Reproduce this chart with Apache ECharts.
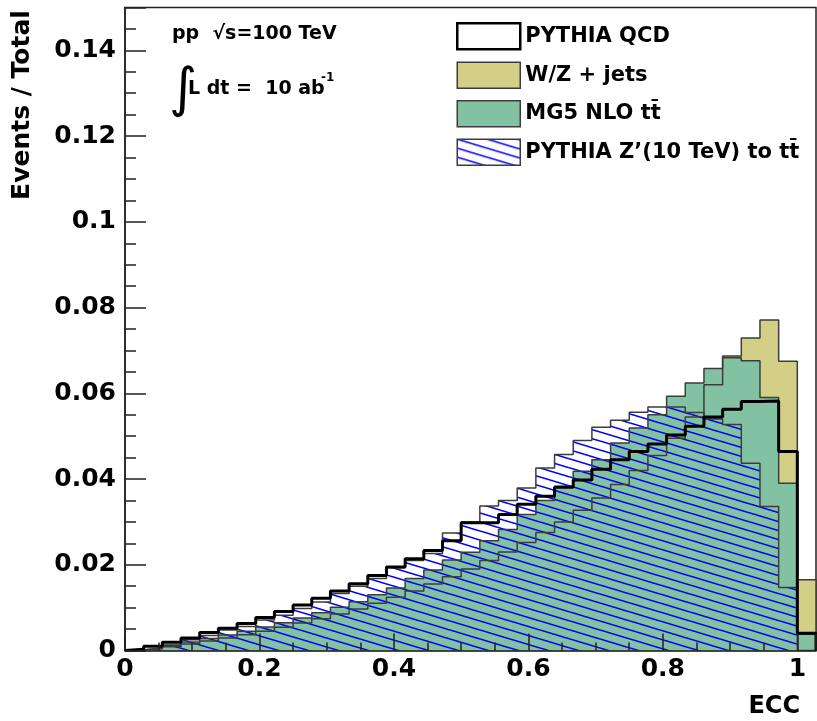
<!DOCTYPE html>
<html>
<head>
<meta charset="utf-8">
<script src="https://cdn.jsdelivr.net/npm/echarts@6/dist/echarts.min.js"></script>
<style>
html, body { margin: 0; padding: 0; background: #fff; }
#chart { width: 817px; height: 721px; }
</style>
</head>
<body>
<div id="chart"></div>
<script>
// ECC histograms: 36 bins in [0,1] plus one overflow bin (last entry)
const nBins = 36;
const xMax = 37 / 36;

const qcd = [0.0003, 0.0010, 0.0019, 0.0029, 0.0042, 0.0052, 0.0063, 0.0077, 0.0091, 0.0106,
  0.0122, 0.0139, 0.0156, 0.0175, 0.0195, 0.0214, 0.0233, 0.0256, 0.0298, 0.0298,
  0.0317, 0.0341, 0.0360, 0.0381, 0.0398, 0.0423, 0.0445, 0.0464, 0.0482, 0.0503,
  0.0523, 0.0545, 0.0563, 0.0581, 0.0582, 0.0464, 0.0040];
const wzJets = [0.0001, 0.0004, 0.0009, 0.0015, 0.0022, 0.0029, 0.0037, 0.0045, 0.0054, 0.0064,
  0.0074, 0.0085, 0.0097, 0.0110, 0.0124, 0.0139, 0.0155, 0.0172, 0.0190, 0.0210,
  0.0230, 0.0252, 0.0275, 0.0300, 0.0327, 0.0356, 0.0387, 0.0420, 0.0455, 0.0495,
  0.0545, 0.0620, 0.0687, 0.0729, 0.0771, 0.0675, 0.0165];
const mg5 = [0.0002, 0.0006, 0.0012, 0.0020, 0.0028, 0.0036, 0.0045, 0.0055, 0.0065, 0.0076,
  0.0088, 0.0101, 0.0114, 0.0130, 0.0146, 0.0168, 0.0188, 0.0211, 0.0229, 0.0256,
  0.0282, 0.0317, 0.0350, 0.0383, 0.0418, 0.0445, 0.0484, 0.0519, 0.0550, 0.0593,
  0.0624, 0.0658, 0.0683, 0.0676, 0.0590, 0.0390, 0.0038];
const zprime = [0.0001, 0.0005, 0.0013, 0.0025, 0.0035, 0.0048, 0.0056, 0.0071, 0.0082, 0.0098,
  0.0113, 0.0133, 0.0150, 0.0168, 0.0193, 0.0210, 0.0226, 0.0274, 0.0300, 0.0337,
  0.0350, 0.0379, 0.0426, 0.0457, 0.0490, 0.0521, 0.0537, 0.0556, 0.0568, 0.0568,
  0.0555, 0.0540, 0.0527, 0.0437, 0.0336, 0.0147, 0.0000];

const names = ['PYTHIA QCD', 'W/Z + jets', 'MG5 NLO tt\u0304', 'PYTHIA Z\u2019(10 TeV) to tt\u0304'];

// turn bin contents into a step outline (starts and ends at 0)
function stepPoints(vals) {
  const w = 1 / nBins;
  const pts = [[0, 0]];
  vals.forEach((v, i) => pts.push([i * w, v]));
  pts.push([vals.length * w, 0]);
  return pts;
}

// blue hatch pattern
function makeHatch() {
  const c = document.createElement('canvas');
  c.width = 30;
  c.height = 9;
  const ctx = c.getContext('2d');
  ctx.strokeStyle = '#0000ff';
  ctx.lineWidth = 1.6;
  for (let k = -1; k <= 1; k++) {
    ctx.beginPath();
    ctx.moveTo(-30, -9 + k * 9);
    ctx.lineTo(60, 18 + k * 9);
    ctx.stroke();
  }
  return c;
}
const hatch = { image: makeHatch(), repeat: 'repeat' };

const tickFont = 'DejaVu Sans';
const outline = '#3c3c3c';

const myChart = echarts.init(document.getElementById('chart'));
const option = {
  animation: false,
  backgroundColor: '#fff',
  grid: {
    left: 125, right: 1, top: 7.5, bottom: 70.5,
    show: true, borderColor: '#222', borderWidth: 1.5, backgroundColor: 'transparent'
  },
  legend: {
    orient: 'vertical',
    left: 451, top: 17,
    itemWidth: 63, itemHeight: 26, itemGap: 11,
    selectedMode: false,
    textStyle: { fontFamily: tickFont, fontWeight: 'bold', fontSize: 21, color: '#000' },
    data: [
      { name: names[0], icon: 'rect', itemStyle: { color: '#fff', borderColor: '#000', borderWidth: 2.5 } },
      { name: names[1], icon: 'rect', itemStyle: { color: '#d3cf87', borderColor: outline, borderWidth: 1.5 } },
      { name: names[2], icon: 'rect', itemStyle: { color: '#82c2a2', borderColor: outline, borderWidth: 1.5 } },
      { name: names[3], icon: 'rect', itemStyle: { color: hatch, borderColor: outline, borderWidth: 1.5 } }
    ]
  },
  xAxis: {
    type: 'value', min: 0, max: xMax, interval: 0.2, z: 5,
    axisLine: { lineStyle: { color: '#222', width: 1.5 } },
    axisTick: { inside: true, length: 17, lineStyle: { color: '#222', width: 1.5 } },
    minorTick: { show: true, splitNumber: 4, length: 8, lineStyle: { color: '#222', width: 1.5 } },
    splitLine: { show: false },
    axisLabel: {
      showMaxLabel: false, margin: 6, color: '#000',
      fontFamily: tickFont, fontWeight: 'bold', fontSize: 25
    }
  },
  yAxis: {
    type: 'value', min: 0, max: 0.15, interval: 0.02, z: 5,
    axisLine: { show: true, lineStyle: { color: '#222', width: 1.5 } },
    axisTick: { show: true, inside: true, length: 21, lineStyle: { color: '#222', width: 1.5 } },
    minorTick: { show: true, splitNumber: 4, length: 11, lineStyle: { color: '#222', width: 1.5 } },
    splitLine: { show: false },
    axisLabel: {
      showMaxLabel: false, margin: 9, color: '#000',
      fontFamily: tickFont, fontWeight: 'bold', fontSize: 25
    }
  },
  graphic: [
    { type: 'text', x: 22, y: 105, rotation: Math.PI / 2,
      style: { text: 'Events / Total', font: 'bold 25px "DejaVu Sans"', fill: '#000', align: 'center', verticalAlign: 'middle' } },
    { type: 'text', x: 800, y: 707,
      style: { text: 'ECC', font: 'bold 24px "DejaVu Sans"', fill: '#000', align: 'right', verticalAlign: 'middle' } },
    { type: 'text', x: 172, y: 34,
      style: { text: 'pp  \u221As=100 TeV', font: 'bold 19px "DejaVu Sans"', fill: '#000', align: 'left', verticalAlign: 'middle' } },
    { type: 'text', x: 169, y: 92,
      style: { text: '\u222B', font: '54px "DejaVu Sans"', fill: '#000', align: 'left', verticalAlign: 'middle' } },
    { type: 'text', x: 188, y: 89,
      style: { text: 'L dt =  10 ab', font: 'bold 19px "DejaVu Sans"', fill: '#000', align: 'left', verticalAlign: 'middle' } },
    { type: 'text', x: 321, y: 78,
      style: { text: '-1', font: 'bold 12px "DejaVu Sans"', fill: '#000', align: 'left', verticalAlign: 'middle' } }
  ],
  series: [
    {
      name: names[1], type: 'line', step: 'end', symbol: 'none', z: 2,
      data: stepPoints(wzJets),
      itemStyle: { color: '#d3cf87' },
      lineStyle: { color: outline, width: 1.5 },
      areaStyle: { color: '#d3cf87', opacity: 1 }
    },
    {
      name: names[2], type: 'line', step: 'end', symbol: 'none', z: 2,
      data: stepPoints(mg5),
      itemStyle: { color: '#82c2a2' },
      lineStyle: { color: outline, width: 1.5 },
      areaStyle: { color: '#82c2a2', opacity: 1 }
    },
    {
      name: names[3], type: 'line', step: 'end', symbol: 'none', z: 2,
      data: stepPoints(zprime),
      itemStyle: { color: '#0000ff' },
      lineStyle: { color: outline, width: 1.5 },
      areaStyle: { color: hatch, opacity: 1 }
    },
    {
      name: names[0], type: 'line', step: 'end', symbol: 'none', z: 3,
      data: stepPoints(qcd),
      itemStyle: { color: '#000' },
      lineStyle: { color: '#000', width: 3 }
    }
  ]
};
myChart.setOption(option);
window.addEventListener('resize', () => {
  if (myChart) {
    myChart.resize();
  }
});
</script>
</body>
</html>
